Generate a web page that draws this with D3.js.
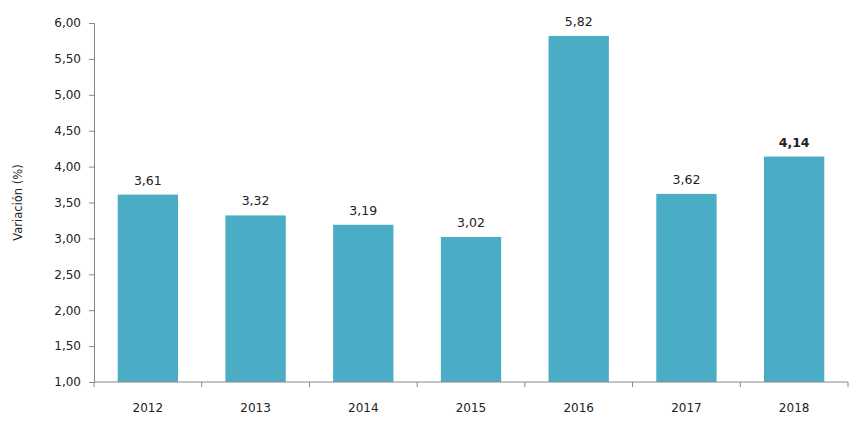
<!DOCTYPE html>
<meta charset="utf-8">
<script src="https://d3js.org/d3.v7.min.js"></script>
<style>
  body { margin: 0; background: #fff; }
  text { font-family: "DejaVu Sans", Verdana, sans-serif; fill: #222; }
</style>
<svg id="chart"></svg>
<script>
// data
var years = ["2012", "2013", "2014", "2015", "2016", "2017", "2018"];
var variacion = [3.61, 3.32, 3.19, 3.02, 5.82, 3.62, 4.14];
var yTicks = [1, 1.5, 2, 2.5, 3, 3.5, 4, 4.5, 5, 5.5, 6];

var width = 853, height = 434;
var margin = { top: 23, right: 5, bottom: 52, left: 94 };

var svg = d3.select("#chart").attr("width", width).attr("height", height);
var g = svg.append("g").attr("transform", "translate(" + margin.left + "," + margin.top + ")");

var w = width - margin.left - margin.right,
    h = height - margin.top - margin.bottom;

var x = d3.scaleBand().domain(years).range([0, 754]).paddingInner(0.44).paddingOuter(0.22);
var y = d3.scaleLinear().domain([1, 6]).range([h, 0]);

var fmt = function (v) { return d3.format(".2f")(v).replace(".", ","); };

// bars
g.selectAll("rect.bar")
  .data(variacion)
  .enter().append("rect")
    .attr("class", "bar")
    .attr("x", function (d, i) { return x(years[i]); })
    .attr("y", function (d) { return y(d); })
    .attr("width", x.bandwidth())
    .attr("height", function (d) { return h - y(d); })
    .attr("fill", "#4bacc6");

// value labels
g.selectAll("text.val")
  .data(variacion)
  .enter().append("text")
    .attr("class", "val")
    .attr("x", function (d, i) { return x(years[i]) + x.bandwidth() / 2; })
    .attr("y", function (d) { return y(d) - 10; })
    .attr("text-anchor", "middle")
    .style("font-size", "12.5px")
    .style("font-weight", function (d, i) { return i === years.length - 1 ? "bold" : "normal"; })
    .text(fmt);

// y axis
var yAxis = g.append("g")
  .call(d3.axisLeft(y).tickValues(yTicks).tickSize(5).tickPadding(8).tickFormat(fmt));
yAxis.selectAll("text").style("font-size", "12px");

// x axis with ticks at category boundaries
var step = x.step();
var xAxis = g.append("g").attr("transform", "translate(0," + h + ")");
xAxis.append("line").attr("x1", 0).attr("x2", 754).attr("stroke", "#888");
xAxis.selectAll("line.tk")
  .data(d3.range(years.length + 1))
  .enter().append("line")
    .attr("class", "tk")
    .attr("x1", function (i) { return i * step; })
    .attr("x2", function (i) { return i * step; })
    .attr("y1", 0).attr("y2", 5)
    .attr("stroke", "#888");
xAxis.selectAll("text")
  .data(years)
  .enter().append("text")
    .attr("x", function (d) { return x(d) + x.bandwidth() / 2; })
    .attr("y", 30)
    .attr("text-anchor", "middle")
    .style("font-size", "12px")
    .text(function (d) { return d; });

g.selectAll(".domain").attr("stroke", "#888");
g.selectAll(".tick line").attr("stroke", "#888");

// y axis title
svg.append("text")
  .attr("transform", "translate(22," + (margin.top + h / 2) + ") rotate(-90)")
  .attr("text-anchor", "middle")
  .style("font-size", "11.5px")
  .text("Variación (%)");
</script>
